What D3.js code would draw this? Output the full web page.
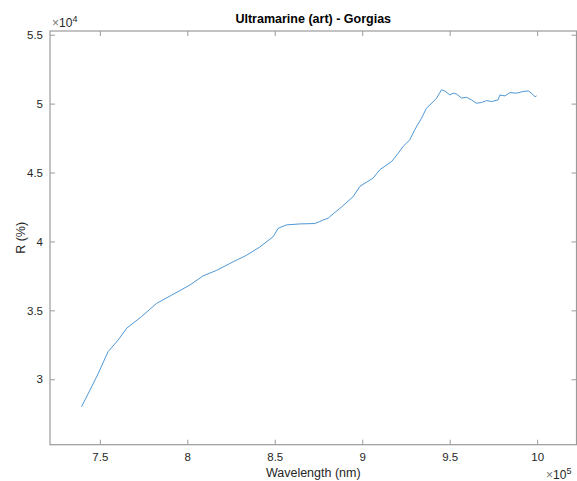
<!DOCTYPE html>
<html>
<head>
<meta charset="utf-8">
<script src="https://cdn.jsdelivr.net/npm/d3@7"></script>
<style>
  body { margin: 0; background: #fff; }
  text { font-family: "Liberation Sans", Arial, Helvetica, sans-serif; }
</style>
</head>
<body>
<svg id="chart" width="577" height="481"></svg>
<script>
// Reflectance spectrum, wavelength in units of 1e5 nm, R in units of 1e4
const wavelength = [
  7.395, 7.443, 7.49, 7.547, 7.605, 7.653, 7.738, 7.824, 7.91, 7.96, 8.015,
  8.09, 8.167, 8.243, 8.339, 8.415, 8.491, 8.52, 8.567, 8.643, 8.729, 8.758,
  8.777, 8.805, 8.815, 8.872, 8.882, 8.948, 8.987, 9.063, 9.10, 9.168, 9.206,
  9.234, 9.272, 9.30, 9.339, 9.367, 9.387, 9.415, 9.425, 9.453, 9.472, 9.501,
  9.52, 9.539, 9.568, 9.596, 9.625, 9.653, 9.682, 9.711, 9.739, 9.777, 9.787,
  9.816, 9.844, 9.882, 9.92, 9.949, 9.968, 9.987, 9.997
];
const reflectance = [
  2.80, 2.92, 3.04, 3.20, 3.285, 3.37, 3.454, 3.55, 3.61, 3.645, 3.684,
  3.75, 3.79, 3.84, 3.90, 3.96, 4.035, 4.096, 4.12, 4.127, 4.13, 4.145,
  4.156, 4.168, 4.18, 4.24, 4.25, 4.325, 4.40, 4.46, 4.52, 4.58, 4.64,
  4.69, 4.737, 4.81, 4.894, 4.967, 4.99, 5.027, 5.04, 5.10, 5.092, 5.063,
  5.076, 5.07, 5.04, 5.046, 5.027, 5.003, 5.008, 5.022, 5.015, 5.027, 5.063,
  5.056, 5.08, 5.076, 5.088, 5.092, 5.076, 5.05, 5.056
];
const xTicks = [7.5, 8, 8.5, 9, 9.5, 10];
const yTicks = [3, 3.5, 4, 4.5, 5, 5.5];
const xDomain = [7.215, 10.225];
const yDomain = [2.525, 5.527];

const svg = d3.select("#chart");
const m = { left: 50, right: 576.5, top: 31, bottom: 444.7 };
const x = d3.scaleLinear().domain(xDomain).range([m.left, m.right]);
const y = d3.scaleLinear().domain(yDomain).range([m.bottom, m.top]);

const axisColor = "#9b9b9b";
const textColor = "#262626";
const tickLen = 5;

const fmt = d => String(d);

// bottom axis
const gx = svg.append("g").attr("transform", `translate(0,${m.bottom})`)
  .call(d3.axisBottom(x).tickValues(xTicks).tickFormat(fmt).tickSize(-tickLen).tickPadding(8));
// top axis (ticks only)
const gxt = svg.append("g").attr("transform", `translate(0,${m.top})`)
  .call(d3.axisTop(x).tickValues(xTicks).tickFormat("").tickSize(-tickLen));
// left axis
const gy = svg.append("g").attr("transform", `translate(${m.left},0)`)
  .call(d3.axisLeft(y).tickValues(yTicks).tickFormat(fmt).tickSize(-tickLen).tickPadding(7));
// right axis (ticks only)
const gyr = svg.append("g").attr("transform", `translate(${m.right},0)`)
  .call(d3.axisRight(y).tickValues(yTicks).tickFormat("").tickSize(-tickLen));

[gx, gxt, gy, gyr].forEach(g => {
  g.select(".domain").remove();
  g.selectAll(".tick line").attr("stroke", axisColor).attr("stroke-width", 1);
  g.selectAll(".tick text").attr("fill", textColor).attr("font-size", 11.5);
});

// box
svg.append("rect")
  .attr("x", m.left).attr("y", m.top)
  .attr("width", m.right - m.left).attr("height", m.bottom - m.top)
  .attr("fill", "none").attr("stroke", axisColor).attr("stroke-width", 1.2);

// spectrum line
const pts = wavelength.map((w, i) => [w, reflectance[i]]);
svg.append("path")
  .datum(pts)
  .attr("fill", "none")
  .attr("stroke", "#3a8bd0")
  .attr("stroke-width", 0.9)
  .attr("stroke-linejoin", "round")
  .attr("d", d3.line().x(d => x(d[0])).y(d => y(d[1])));

// title
svg.append("text")
  .attr("x", (m.left + m.right) / 2).attr("y", 23)
  .attr("text-anchor", "middle")
  .attr("font-size", 12.5).attr("font-weight", "bold").attr("fill", "#000")
  .text("Ultramarine (art) - Gorgias");

// axis labels
svg.append("text")
  .attr("x", (m.left + m.right) / 2).attr("y", 477)
  .attr("text-anchor", "middle").attr("font-size", 12.5).attr("fill", textColor)
  .text("Wavelength (nm)");
svg.append("text")
  .attr("transform", `translate(25,${(m.top + m.bottom) / 2}) rotate(-90)`)
  .attr("text-anchor", "middle").attr("font-size", 12.5).attr("fill", textColor)
  .text("R (%)");

// exponent multipliers
const e4 = svg.append("text").attr("x", 52).attr("y", 27)
  .attr("font-size", 12).attr("fill", textColor);
e4.append("tspan").attr("fill", "#777").text("×");
e4.append("tspan").text("10");
e4.append("tspan").attr("dy", -5).attr("font-size", 9).text("4");

const e5 = svg.append("text").attr("x", 546).attr("y", 479)
  .attr("font-size", 12).attr("fill", textColor);
e5.append("tspan").attr("fill", "#777").text("×");
e5.append("tspan").text("10");
e5.append("tspan").attr("dy", -5).attr("font-size", 9).text("5");
</script>
</body>
</html>
